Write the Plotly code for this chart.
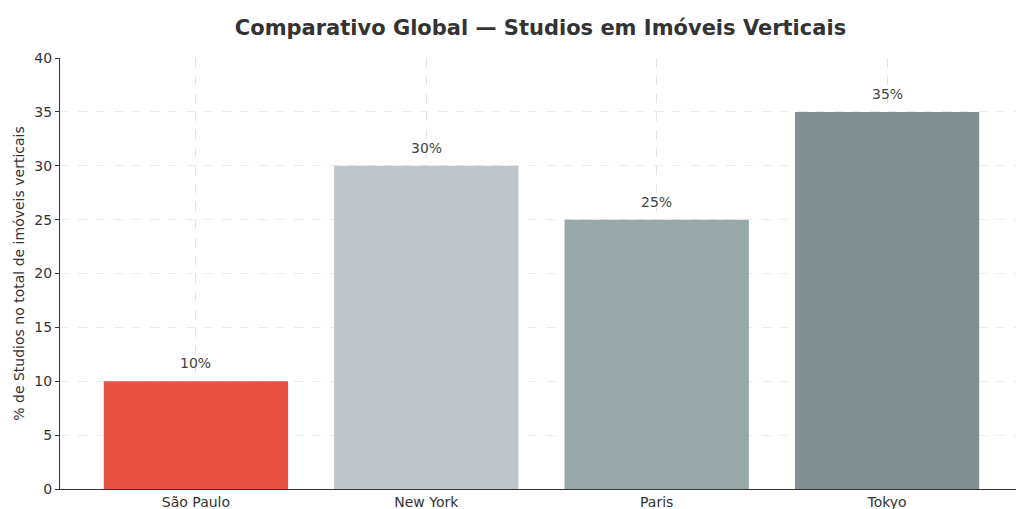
import plotly.graph_objects as go

cities = ["São Paulo", "New York", "Paris", "Tokyo"]
values = [10, 30, 25, 35]
colors = ["#e74c3c", "#bdc3c7", "#95a5a6", "#7f8c8d"]
labels = [f"{v}%" for v in values]

fig = go.Figure(go.Bar(
    x=cities, y=values, marker=dict(color=colors, line=dict(width=0)),
    width=0.8, opacity=0.97))

for c, v, t in zip(cities, values, labels):
    fig.add_annotation(x=c, y=v, text=t, showarrow=False, yanchor="bottom",
                       yshift=8, font=dict(size=14, color="#444"))

fig.update_layout(
    width=1024, height=509, plot_bgcolor="white", paper_bgcolor="white",
    font=dict(family="DejaVu Sans", size=13, color="#333"),
    title=dict(text="<b>Comparativo Global — Studios em Imóveis Verticais</b>",
               x=0.52, xanchor="center", y=0.962, yanchor="middle",
               font=dict(size=21, color="#333")),
    margin=dict(l=52, r=9, t=50, b=28),
    showlegend=False,
)
fig.update_xaxes(range=[-0.59, 3.59], showline=True, linecolor="#333", linewidth=1,
                 showgrid=True, gridcolor="#e3e3e3", griddash="dash", ticks="",
                 tickfont=dict(size=14), automargin=False)
fig.update_yaxes(range=[0, 40], dtick=5, showline=True, linecolor="#333",
                 showgrid=True, gridcolor="#ebebeb", griddash="dash", zeroline=False,
                 ticks="outside", ticklen=4, tickcolor="#333", tickfont=dict(size=14),
                 automargin=False,
                 title=dict(text="% de Studios no total de imóveis verticais",
                            font=dict(size=14), standoff=6))
fig.write_html("out.html")
